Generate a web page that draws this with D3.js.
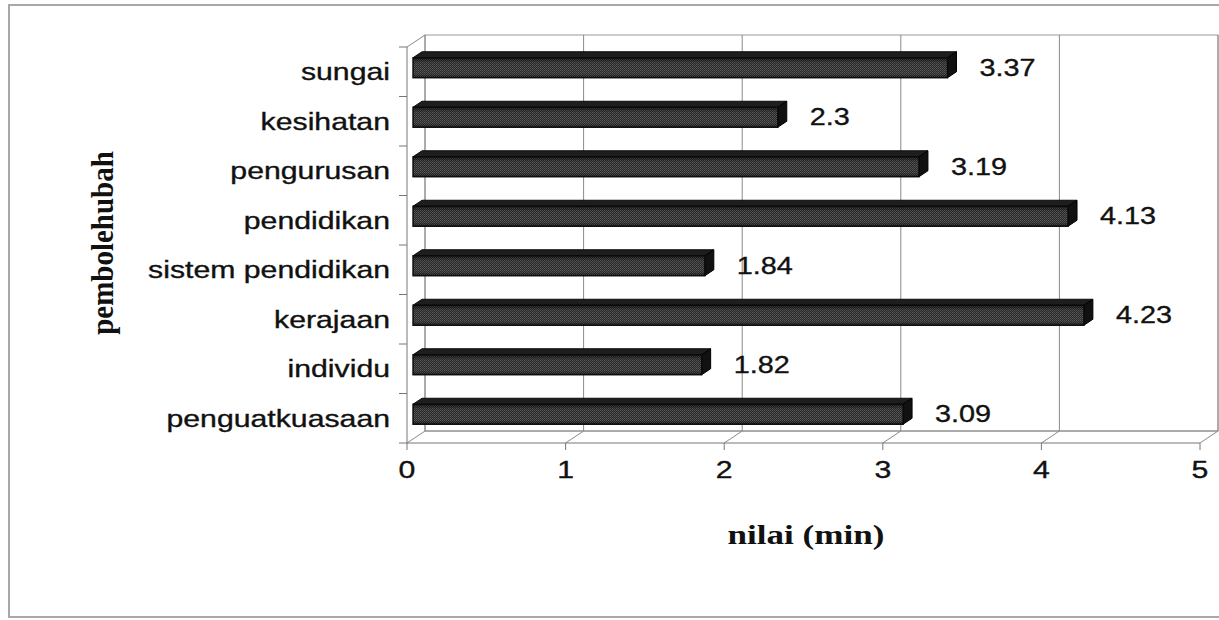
<!DOCTYPE html>
<html>
<head>
<meta charset="utf-8">
<script src="https://cdn.jsdelivr.net/npm/d3@7"></script>
<style>
  body { margin: 0; background: #fff; }
  svg { display: block; }
</style>
</head>
<body>
<svg id="chart"></svg>
<script>
const categories = ['sungai', 'kesihatan', 'pengurusan', 'pendidikan', 'sistem pendidikan', 'kerajaan', 'individu', 'penguatkuasaan'];
const values = [3.37, 2.3, 3.19, 4.13, 1.84, 4.23, 1.82, 3.09];
const xTicks = [0, 1, 2, 3, 4, 5];

const W = 1219, H = 620;
const sans = 'Arial, "Liberation Sans", sans-serif';
const serif = '"Times New Roman", "Liberation Serif", serif';

// oblique 3d offsets
const wall = {dx: 18, dy: -12};
const barOff = {dx: 6, dy: -4};
const barDepth = {dx: 9, dy: -6};
const barH = 20;

const svg = d3.select('#chart').attr('width', W).attr('height', H);

const x = d3.scaleLinear().domain([0, 5]).range([407, 1200]);
const y = d3.scaleBand().domain(categories).range([47, 443]);
const y0 = y.range()[1], yTop = y.range()[0];

// patterns / gradients
const defs = svg.append('defs');
const pat = defs.append('pattern').attr('id', 'dither')
    .attr('width', 2).attr('height', 2).attr('patternUnits', 'userSpaceOnUse');
pat.append('rect').attr('width', 2).attr('height', 2).attr('fill', '#2c2c2c');
pat.append('rect').attr('width', 1).attr('height', 1).attr('fill', '#5e5e5e');
pat.append('rect').attr('x', 1).attr('y', 1).attr('width', 1).attr('height', 1).attr('fill', '#525252');

const grad = defs.append('linearGradient').attr('id', 'shade')
    .attr('x1', 0).attr('y1', 0).attr('x2', 0).attr('y2', 1);
grad.append('stop').attr('offset', '0%').attr('stop-color', '#000').attr('stop-opacity', 0.6);
grad.append('stop').attr('offset', '25%').attr('stop-color', '#000').attr('stop-opacity', 0.1);
grad.append('stop').attr('offset', '80%').attr('stop-color', '#000').attr('stop-opacity', 0.05);
grad.append('stop').attr('offset', '100%').attr('stop-color', '#000').attr('stop-opacity', 0.5);

// outer border
svg.append('rect').attr('x', 9).attr('y', 5).attr('width', W).attr('height', 612)
    .attr('fill', 'none').attr('stroke', '#a8a8a8').attr('stroke-width', 2);

const grid = svg.append('g').attr('stroke', '#8a8a8a').attr('stroke-width', 1).attr('fill', 'none');

// back wall
grid.append('rect')
    .attr('x', x(0) + wall.dx).attr('y', yTop + wall.dy)
    .attr('width', x(5) - x(0)).attr('height', y0 - yTop)
    .attr('stroke', '#9a9a9a');
// vertical gridlines on wall
grid.selectAll('.vg').data(xTicks).join('line')
    .attr('x1', d => x(d) + wall.dx).attr('x2', d => x(d) + wall.dx)
    .attr('y1', yTop + wall.dy).attr('y2', y0 + wall.dy);
// floor lines
grid.selectAll('.fl').data(xTicks).join('line')
    .attr('x1', d => x(d)).attr('y1', y0)
    .attr('x2', d => x(d) + wall.dx).attr('y2', y0 + wall.dy);
grid.append('line').attr('x1', x(0)).attr('x2', x(5)).attr('y1', y0).attr('y2', y0).attr('stroke', '#777');
grid.append('line').attr('x1', x(0) + wall.dx).attr('x2', x(5) + wall.dx)
    .attr('y1', y0 + wall.dy).attr('y2', y0 + wall.dy);
// side (left) wall edges
grid.append('line').attr('x1', x(0)).attr('x2', x(0)).attr('y1', yTop).attr('y2', y0).attr('stroke', '#777');
grid.append('line').attr('x1', x(0)).attr('y1', yTop)
    .attr('x2', x(0) + wall.dx).attr('y2', yTop + wall.dy);

// category ticks
const bounds = categories.map(c => y(c)).concat([y0]);
grid.selectAll('.ct').data(bounds).join('line')
    .attr('x1', x(0) - 8).attr('x2', x(0))
    .attr('y1', d => d).attr('y2', d => d).attr('stroke', '#777');
// value ticks
grid.selectAll('.xt').data(xTicks).join('line')
    .attr('x1', d => x(d)).attr('x2', d => x(d))
    .attr('y1', y0).attr('y2', y0 + 7).attr('stroke', '#777');

// bars
const bars = svg.append('g');
categories.forEach((c, i) => {
    const v = values[i];
    const cy = y(c) + y.bandwidth() / 2 + barOff.dy;
    const ty = cy - barH / 2, by = cy + barH / 2;
    const xs = x(0) + barOff.dx, xe = x(v) + barOff.dx;
    const g = bars.append('g');
    // top face
    g.append('path')
        .attr('d', `M${xs},${ty}L${xs + barDepth.dx},${ty + barDepth.dy}L${xe + barDepth.dx},${ty + barDepth.dy}L${xe},${ty}Z`)
        .attr('fill', '#1e1e1e').attr('stroke', '#0a0a0a').attr('stroke-width', 1);
    // side face
    g.append('path')
        .attr('d', `M${xe},${ty}L${xe + barDepth.dx},${ty + barDepth.dy}L${xe + barDepth.dx},${by + barDepth.dy}L${xe},${by}Z`)
        .attr('fill', '#111').attr('stroke', '#000').attr('stroke-width', 1);
    // front face
    g.append('rect').attr('x', xs).attr('y', ty).attr('width', xe - xs).attr('height', barH)
        .attr('fill', 'url(#dither)');
    g.append('rect').attr('x', xs).attr('y', ty).attr('width', xe - xs).attr('height', barH)
        .attr('fill', 'url(#shade)').attr('stroke', '#0a0a0a').attr('stroke-width', 1.4);
});

// stretched text helper
function label(parent, tx, ty, txt, opt) {
    const g = parent.append('g')
        .attr('transform', `translate(${tx},${ty}) scale(${opt.sx || 1.26},1)` + (opt.rot ? ` rotate(${opt.rot})` : ''));
    g.append('text').text(txt)
        .attr('text-anchor', opt.anchor || 'start')
        .attr('dominant-baseline', 'central')
        .attr('font-family', opt.family || sans)
        .attr('font-size', opt.size || 24)
        .attr('font-weight', opt.weight || 'normal')
        .attr('fill', '#111')
        .attr('stroke', '#111')
        .attr('stroke-width', opt.weight ? 0 : 0.35);
}

const texts = svg.append('g');
// category labels
categories.forEach(c => label(texts, 390, y(c) + y.bandwidth() / 2, c, {anchor: 'end'}));
// value tick labels
xTicks.forEach(t => label(texts, x(t), 470, String(t), {anchor: 'middle'}));
// data labels
categories.forEach((c, i) => label(texts, x(values[i]) + barOff.dx + barDepth.dx + 23,
    y(c) + y.bandwidth() / 2 + barOff.dy, String(values[i]), {sx: 1.2}));

// axis titles
label(texts, 806, 535, 'nilai (min)', {anchor: 'middle', family: serif, size: 27, weight: 'bold', sx: 1.3});
label(texts, 103, 243, 'pembolehubah', {anchor: 'middle', family: serif, size: 29, weight: 'bold', sx: 1.1, rot: -90});
</script>
</body>
</html>
